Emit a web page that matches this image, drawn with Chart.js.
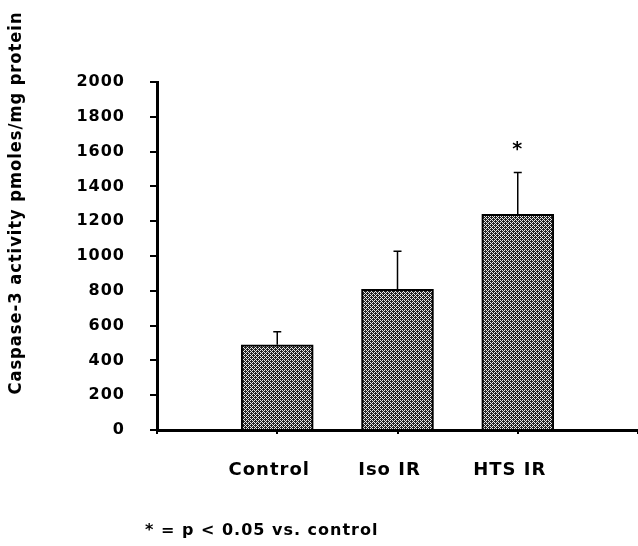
<!DOCTYPE html>
<html>
<head>
<meta charset="utf-8">
<script src="https://cdn.jsdelivr.net/npm/chart.js@4/dist/chart.umd.min.js"></script>
<style>
body { margin: 0; background: #fff; }
</style>
</head>
<body>
<canvas id="chart" width="638" height="546"></canvas>
<script>
// values
let categories = ["Control", "Iso IR", "HTS IR"]
let means = [490, 808, 1240]
let errors = [75, 220, 240]
let stars = ["", "", "*"]
let yTicks = [0, 200, 400, 600, 800, 1000, 1200, 1400, 1600, 1800, 2000]

let yTitle = "Caspase-3 activity pmoles/mg protein"
let footnote = "* = p < 0.05 vs. control"

// dithered grey fill like the scanned bars
function makePattern() {
  let c = document.createElement('canvas')
  c.width = 4
  c.height = 4
  let p = c.getContext('2d')
  p.fillStyle = '#222'
  p.fillRect(0, 0, 4, 4)
  p.fillStyle = '#e8e8e8'
  p.fillRect(0, 0, 1, 1)
  p.fillRect(1, 1, 1, 1)
  p.fillRect(2, 2, 1, 1)
  p.fillRect(3, 3, 1, 1)
  p.fillRect(2, 0, 1, 1)
  p.fillRect(0, 2, 1, 1)
  return p.createPattern(c, 'repeat')
}

// pad with empty slots so the bars sit on the inner ticks
let labels = [""].concat(categories).concat([""])
let data = [null].concat(means).concat([null])

const FONT = 'DejaVu Sans'

const extras = {
  id: 'extras',
  beforeDraw(chart) {
    chart.ctx.letterSpacing = '1px'
  },
  afterDatasetsDraw(chart) {
    let ctx = chart.ctx
    let x = chart.scales.x
    let y = chart.scales.y
    ctx.save()
    ctx.strokeStyle = '#000'
    ctx.lineWidth = 1.5
    categories.forEach((c, i) => {
      let px = x.getPixelForValue(i + 1)
      let top = y.getPixelForValue(means[i])
      let hi = y.getPixelForValue(means[i] + errors[i])
      ctx.beginPath()
      ctx.moveTo(px, top)
      ctx.lineTo(px, hi)
      ctx.moveTo(px - 4, hi)
      ctx.lineTo(px + 4, hi)
      ctx.stroke()
      if (stars[i]) {
        ctx.fillStyle = '#000'
        ctx.font = 'bold 19px ' + FONT
        ctx.textAlign = 'center'
        ctx.textBaseline = 'middle'
        ctx.fillText(stars[i], px, hi - 22)
      }
    })

    // y title
    ctx.fillStyle = '#000'
    ctx.font = 'bold 17px ' + FONT
    ctx.textAlign = 'center'
    ctx.textBaseline = 'middle'
    ctx.translate(17, 203)
    ctx.rotate(-Math.PI / 2)
    let w = ctx.measureText(yTitle).width
    ctx.scale(383 / w, 1)
    ctx.fillText(yTitle, 0, 0)
    ctx.restore()

    ctx.save()
    ctx.fillStyle = '#000'
    ctx.font = 'bold 16px ' + FONT
    ctx.textAlign = 'left'
    ctx.textBaseline = 'alphabetic'
    ctx.fillText(footnote, 145, 535)
    ctx.restore()
  }
}

const chart = new Chart(document.getElementById('chart').getContext('2d'), {
  type: 'bar',
  data: {
    labels: labels,
    datasets: [{
      data: data,
      backgroundColor: makePattern(),
      borderColor: '#000',
      borderWidth: 2,
      borderSkipped: 'bottom',
      barThickness: 72
    }]
  },
  options: {
    responsive: false,
    animation: false,
    layout: { padding: { top: 82, left: 0, right: -6, bottom: 0 } },
    plugins: {
      legend: { display: false },
      tooltip: { enabled: false }
    },
    scales: {
      x: {
        offset: false,
        afterFit: s => { s.height = 116; s.paddingRight = 0; s.paddingLeft = 0 },
        grid: { offset: false, drawOnChartArea: false, drawTicks: true, tickLength: 4, color: '#000', lineWidth: 2 },
        border: { color: '#000', width: 3 },
        ticks: {
          color: '#000',
          padding: 26,
          labelOffset: -8,
          maxRotation: 0,
          autoSkip: false,
          font: { family: FONT, weight: 'bold', size: 18 }
        }
      },
      y: {
        min: 0,
        max: 2000,
        afterFit: s => { s.width = 157 },
        afterBuildTicks: s => { s.ticks = yTicks.map(v => ({ value: v })) },
        grid: { drawOnChartArea: false, drawTicks: true, tickLength: 7, color: '#000', lineWidth: 2 },
        border: { color: '#000', width: 3 },
        ticks: {
          color: '#000',
          padding: 25,
          callback: v => String(v),
          font: { family: FONT, weight: 'bold', size: 16 }
        }
      }
    }
  },
  plugins: [extras]
})
</script>
</body>
</html>
